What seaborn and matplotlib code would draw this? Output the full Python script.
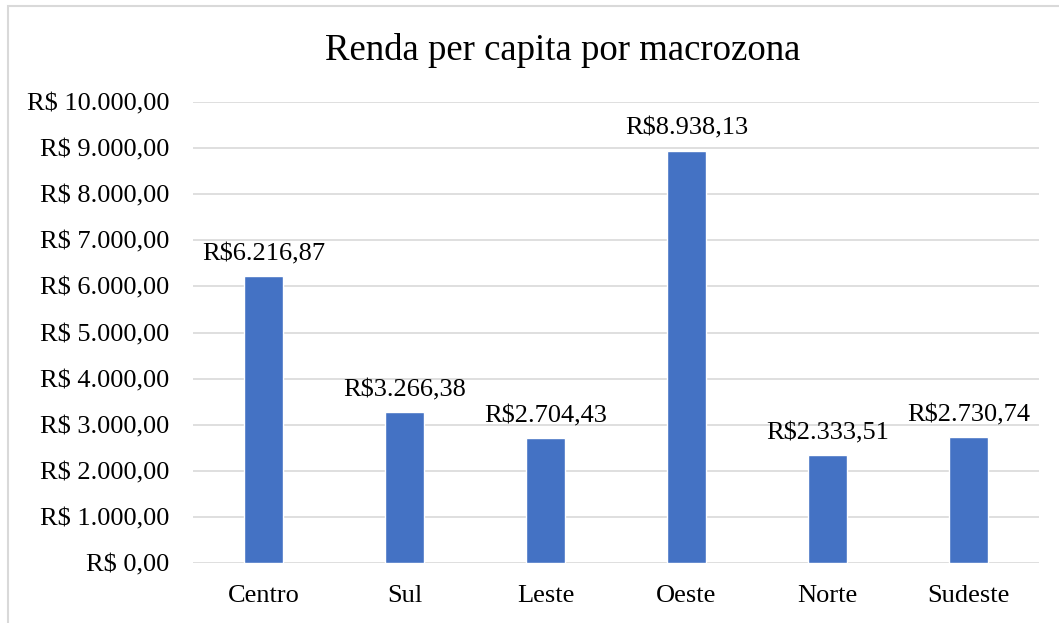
import matplotlib
matplotlib.use("Agg")
import matplotlib.pyplot as plt
from matplotlib.patches import Rectangle
from matplotlib.ticker import FuncFormatter
import seaborn as sns
import pandas as pd

# Data
macrozonas = ["Centro", "Sul", "Leste", "Oeste", "Norte", "Sudeste"]
renda = [6216.87, 3266.38, 2704.43, 8938.13, 2333.51, 2730.74]
y_ticks = list(range(0, 10001, 1000))

BAR_COLOR = "#4472C4"
GRID_COLOR = "#D9D9D9"


def brl(v, decimals=2):
    s = f"{v:,.{decimals}f}"
    return s.replace(",", "X").replace(".", ",").replace("X", ".")


sns.set_theme(style="white")
plt.rcParams["font.family"] = ["Liberation Serif", "DejaVu Serif"]

df = pd.DataFrame({"macrozona": macrozonas, "renda": renda})

fig = plt.figure(figsize=(10.59, 6.23), dpi=100)
W, H = 1059, 623
ax = fig.add_axes([193 / W, 1 - 563 / H, (1039 - 193) / W, (563 - 102) / H])

sns.barplot(data=df, x="macrozona", y="renda", color=BAR_COLOR,
            saturation=1, width=0.28, ax=ax, zorder=3)

ax.set_ylim(0, 10000)
ax.set_xlim(-0.5, len(macrozonas) - 0.5)
ax.set_yticks(y_ticks)
ax.yaxis.set_major_formatter(FuncFormatter(lambda v, p: "R$ " + brl(v)))
ax.grid(axis="y", color=GRID_COLOR, linewidth=1.2, zorder=0)
ax.grid(axis="x", visible=False)
for side in ["top", "right", "left", "bottom"]:
    ax.spines[side].set_visible(False)
ax.tick_params(axis="y", length=0, pad=17, labelsize=19, labelcolor="black")
ax.tick_params(axis="x", length=0, pad=16, labelsize=19, labelcolor="black")
ax.set_xlabel("")
ax.set_ylabel("")

ax.bar_label(ax.containers[0], labels=["R$" + brl(v) for v in renda],
             padding=8, fontsize=19, color="black")

fig.text(563 / W, 1 - 51 / H, "Renda per capita por macrozona",
         ha="center", va="center", fontsize=26.5, color="black")

# light chart-area frame (right/bottom edges fall outside the image)
fig.patches.append(Rectangle((8 / W, -0.1), 1.2, 1.1 - 6.5 / H,
                             transform=fig.transFigure, fill=False,
                             edgecolor=GRID_COLOR, linewidth=1.5))

fig.savefig("out.png", dpi=100)
